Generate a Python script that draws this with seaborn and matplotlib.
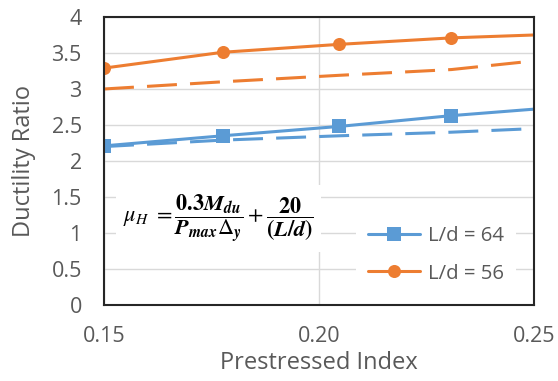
import matplotlib
matplotlib.use("Agg")
import matplotlib.pyplot as plt
import seaborn as sns
import pandas as pd

# Prestressed index values (last point sits on the right edge of the axis)
index_vals = [0.15, 0.1776, 0.2047, 0.2308, 0.25]

# Test results (solid lines with markers)
ratio_ld64 = [2.21, 2.35, 2.48, 2.63, 2.72]
ratio_ld56 = [3.29, 3.51, 3.62, 3.71, 3.75]

# Proposed equation (dashed lines)
eq_ld64 = [2.20, 2.29, 2.35, 2.40, 2.45]
eq_ld56 = [3.00, 3.10, 3.19, 3.27, 3.39]

labels = ["L/d = 64", "L/d = 56"]
x_ticks = [0.15, 0.20, 0.25]
x_tick_labels = ["0.15", "0.20", "0.25"]
y_ticks = [0, 0.5, 1, 1.5, 2, 2.5, 3, 3.5, 4]
y_tick_labels = ["0", "0.5", "1", "1.5", "2", "2.5", "3", "3.5", "4"]

BLUE = "#5b9bd5"
ORANGE = "#ed7d31"
GRAY = "#595959"

sns.set_theme(style="white")
plt.rcParams["font.family"] = ["Open Sans", "DejaVu Sans"]
plt.rcParams["mathtext.fontset"] = "stix"

fig = plt.figure(figsize=(5.58, 3.81), dpi=100)
ax = fig.add_axes([0.1864, 0.1995, 0.7706, 0.7559])

df = pd.DataFrame({"x": index_vals, "t64": ratio_ld64, "t56": ratio_ld56,
                   "e64": eq_ld64, "e56": eq_ld56})

lw = 2.2
dash = (0, (9.8, 4.3))
marks = [0, 1, 2, 3]
sns.lineplot(data=df, x="x", y="e64", ax=ax, color=BLUE, lw=lw,
             linestyle=dash, legend=False)
sns.lineplot(data=df, x="x", y="e56", ax=ax, color=ORANGE, lw=lw,
             linestyle=dash, legend=False)
sns.lineplot(data=df, x="x", y="t64", ax=ax, color=BLUE, lw=lw, marker="s",
             markersize=9.6, markeredgewidth=0, markevery=marks, label=labels[0])
sns.lineplot(data=df, x="x", y="t56", ax=ax, color=ORANGE, lw=lw, marker="o",
             markersize=9.4, markeredgewidth=0, markevery=marks, label=labels[1])

ax.set_xlim(0.15, 0.25)
ax.set_ylim(0, 4)
ax.set_xticks(x_ticks)
ax.set_xticklabels(x_tick_labels)
ax.set_yticks(y_ticks)
ax.set_yticklabels(y_tick_labels)
ax.tick_params(axis="both", length=0, labelsize=15.5, labelcolor=GRAY)
ax.tick_params(axis="y", pad=16)
ax.tick_params(axis="x", pad=15)

ax.grid(True, color="#d9d9d9", lw=1)
ax.set_axisbelow(True)
for s in ax.spines.values():
    s.set_color("#262626")
    s.set_linewidth(1.5)

ax.set_xlabel("Prestressed Index", fontsize=17, color=GRAY, labelpad=3)
ax.set_ylabel("Ductility Ratio", fontsize=17, color=GRAY, labelpad=11)

formula = (r"$\mu_H\ =\dfrac{\mathbf{0.3}\mathbfit{M}_{\mathbfit{du}}}"
           r"{\mathbfit{P}_{\mathbfit{max}}\Delta_{\mathbfit{y}}}"
           r"+\dfrac{\mathbf{20}}{\mathbf{(}\mathbfit{L}\mathbf{/}\mathbfit{d}\mathbf{)}}$")
ax.text(0.1545, 1.2, formula, fontsize=16, color="black", va="center", ha="left",
        bbox=dict(facecolor="white", edgecolor="none", pad=5), zorder=3)

leg = ax.legend(loc="center", bbox_to_anchor=(0.772, 0.174), frameon=True,
                fontsize=14.7, handlelength=2.55, labelspacing=0.85,
                borderpad=0.6, handletextpad=0.35)
leg.get_frame().set_edgecolor("none")
leg.get_frame().set_facecolor("white")
leg.get_frame().set_alpha(1)
for t in leg.get_texts():
    t.set_color(GRAY)

fig.savefig("out.png", dpi=100)
